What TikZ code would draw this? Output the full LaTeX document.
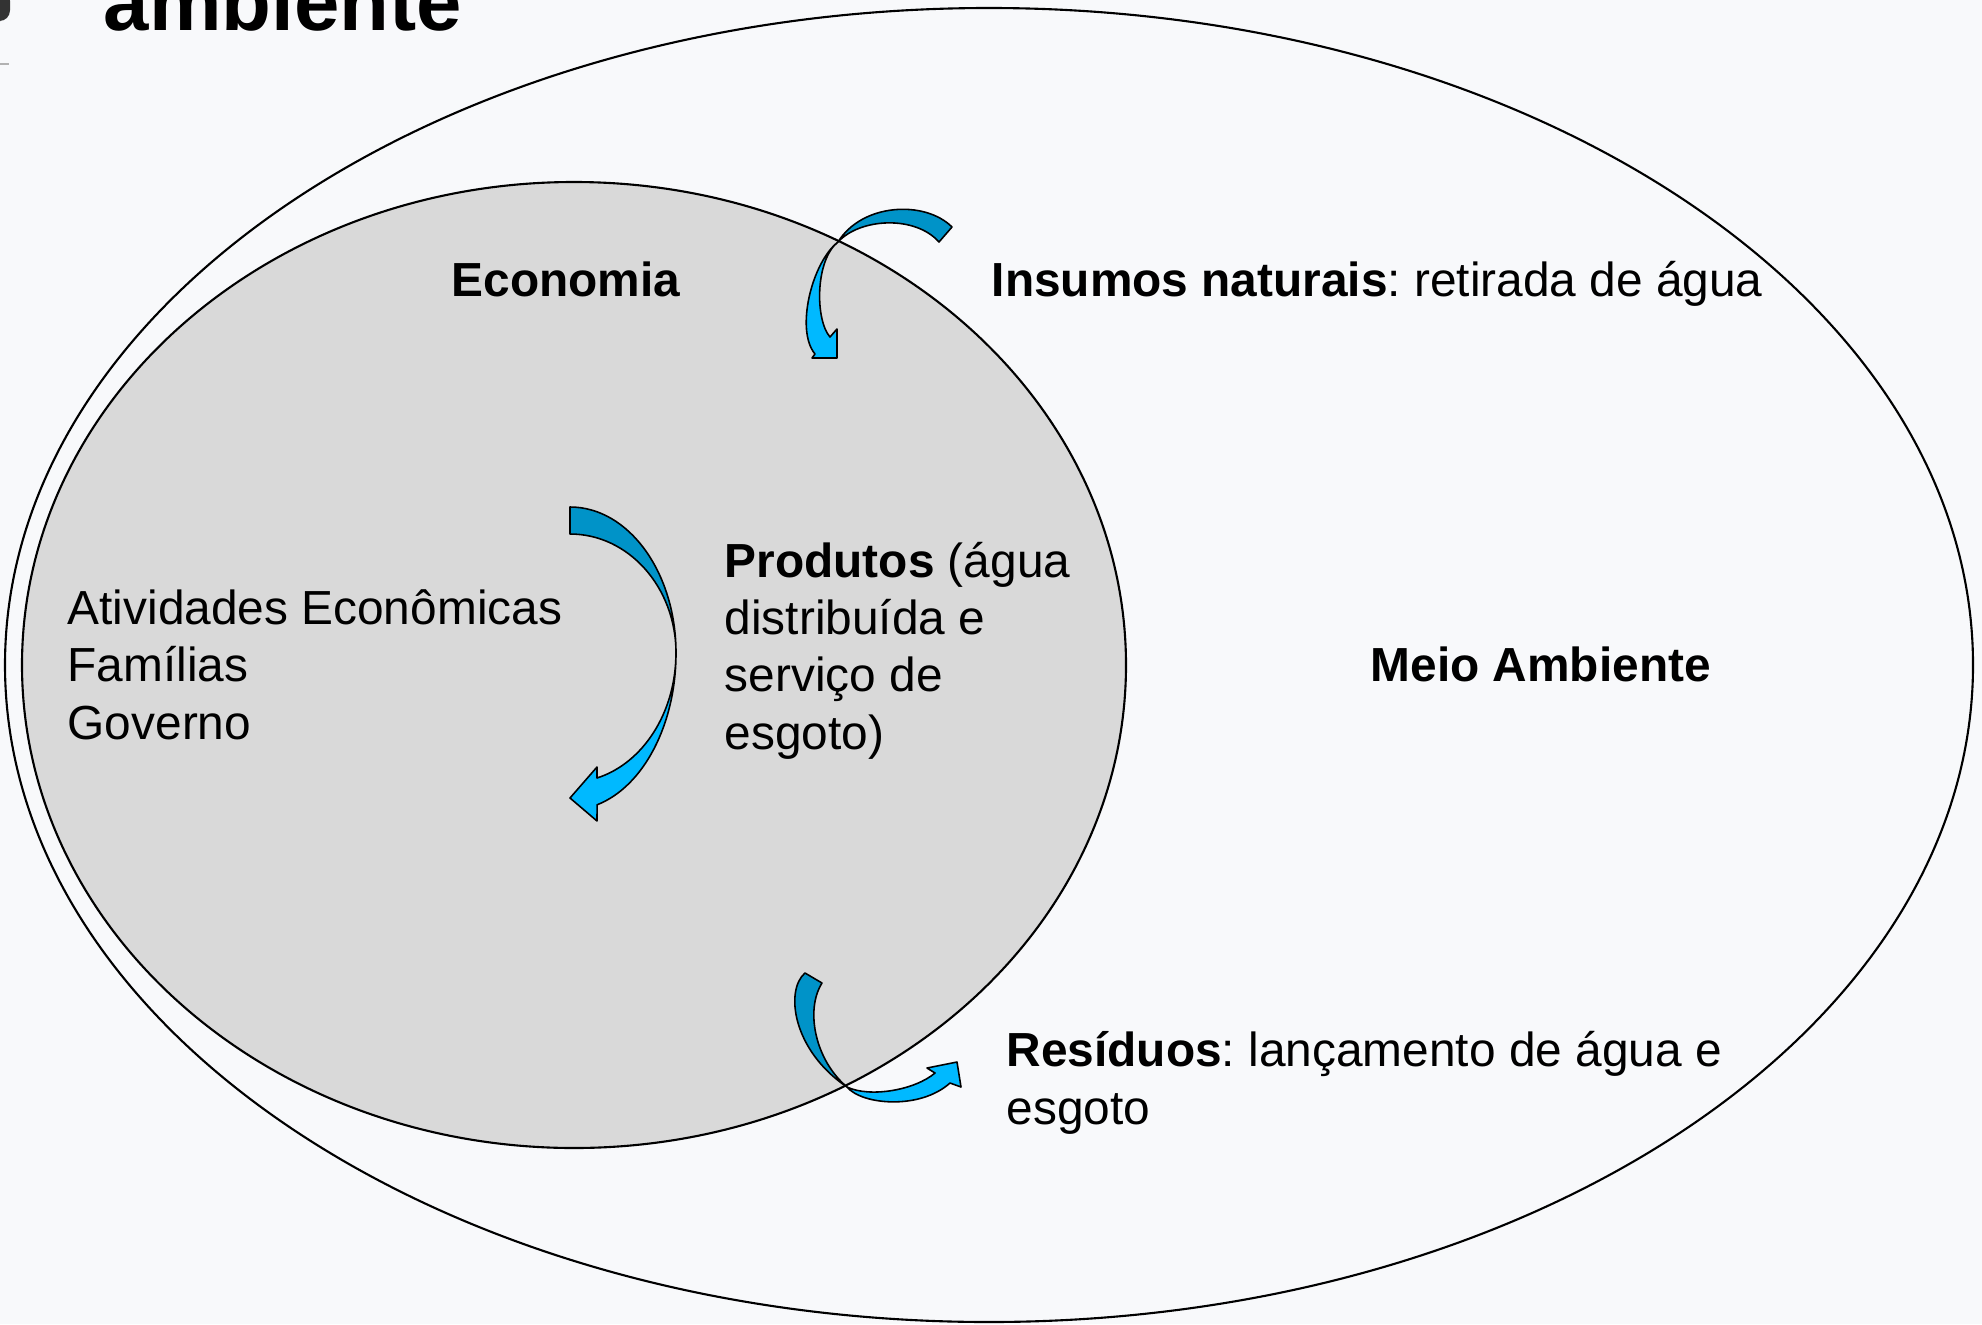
\documentclass[tikz,border=0pt]{standalone}
\usepackage{fontspec}
\setmainfont{Liberation Sans}
\frenchspacing

\definecolor{slidebg}{HTML}{F8F9FB}
\definecolor{econgray}{HTML}{D9D9D9}
\definecolor{arrdark}{HTML}{0093C8}
\definecolor{arrlight}{HTML}{00B9FF}

\tikzset{
  lbl/.style={inner sep=0pt, anchor=base west, align=left,
    font=\fontsize{13.6}{16.3}\selectfont},
  ringline/.style={draw=black, line width=0.6pt},
  flowback/.style={fill=arrdark, draw=black, line width=0.45pt, line join=round},
  flowfront/.style={fill=arrlight, draw=black, line width=0.45pt, line join=round}
}

\begin{document}
\begin{tikzpicture}[x=0.01cm,y=-0.01cm]
% slide background, 1982 x 1324
\fill[slidebg] (0,0) rectangle (1982,1324);
\useasboundingbox (0,0) rectangle (1982,1324);

% left edge of the slide and the title, cut at the top
\begin{scope}
\clip (0,0) rectangle (1982,1324);
\fill[black!80, rounded corners=3pt] (-10,-10) rectangle (10,21);
\draw[black!30, line width=0.6pt] (0,64) -- (9,64);
\node[lbl, font=\fontsize{23.2}{27}\selectfont\bfseries] (title) at (103,31) {ambiente};
\end{scope}

% Meio Ambiente (outer) and Economia (inner, grey)
\draw[ringline] (989,665) ellipse [x radius=984, y radius=657];
\draw[ringline, fill=econgray] (574,665) ellipse [x radius=552, y radius=483];

% labels (multi-line ones sit on the baseline of their last line)
\node[lbl] (econ) at (451,296) {\textbf{Economia}};
\node[lbl] (insumos) at (991,296) {\textbf{Insumos naturais}: retirada de água};
\node[lbl] (agentes) at (67,739) {Atividades Econômicas\\Famílias\\Governo};
\node[lbl] (produtos) at (724,749) {\textbf{Produtos} (água\\distribuída e\\serviço de\\esgoto)};
\node[lbl] (meio) at (1370,681) {\textbf{Meio Ambiente}};
\node[lbl] (residuos) at (1006,1124) {\textbf{Resíduos}: lançamento de água e\\esgoto};

% Insumos arrow (environment -> economy)
\filldraw[flowback] (952,227) .. controls (925,200) and (862,203) .. (838,242)
  .. controls (860,218) and (915,215) .. (939,242) -- cycle;
\filldraw[flowfront] (838,242) .. controls (812,262) and (795,330) .. (815,354)
  -- (812,358) -- (837,358) -- (837,329) -- (830,337)
  .. controls (815,320) and (815,260) .. (838,242) -- cycle;

% Produtos arrow (inside the economy)
\filldraw[flowback] (570,507) arc[start angle=-90, end angle=0, x radius=106, y radius=146]
  arc[start angle=0, end angle=-90, x radius=106, y radius=119] -- cycle;
\filldraw[flowfront] (676,653) arc[start angle=0, end angle=75.2, x radius=106, y radius=157]
  -- (597,821) -- (570,798) -- (597,767) -- (597,778)
  arc[start angle=75.2, end angle=0, x radius=106, y radius=129] -- cycle;

% Residuos arrow (economy -> environment)
\filldraw[flowback] (805,973) .. controls (785,990) and (792,1050) .. (847,1087)
  .. controls (815,1060) and (805,1010) .. (822,983) -- cycle;
\filldraw[flowfront] (847,1087) .. controls (862,1105) and (920,1110) .. (950,1083)
  -- (961,1087) -- (957,1062) -- (927,1068) -- (935,1073)
  .. controls (915,1090) and (870,1098) .. (847,1087) -- cycle;
\end{tikzpicture}
\end{document}
